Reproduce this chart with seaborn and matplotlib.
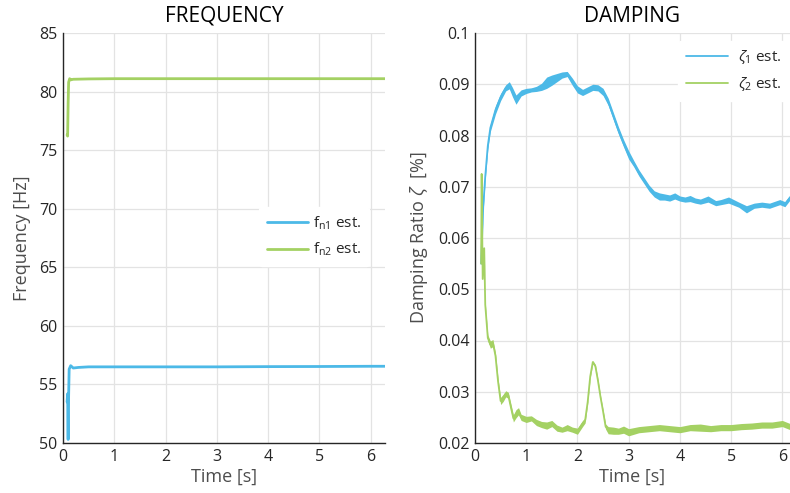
import numpy as np
import pandas as pd
import matplotlib
matplotlib.use("Agg")
import matplotlib.pyplot as plt
import seaborn as sns

# Frequency estimates
t_freq = [0.08, 0.09, 0.10, 0.105, 0.12, 0.15, 0.2, 0.3, 0.5, 1.0, 2.0, 3.0, 4.0, 5.0, 6.0, 6.28]
fn1 = [53.5, 54.2, 50.3, 53.0, 56.3, 56.6, 56.4, 56.45, 56.5, 56.5, 56.5, 56.5, 56.52, 56.53, 56.55, 56.55]
t_freq2 = [0.08, 0.09, 0.10, 0.11, 0.13, 0.15, 0.2, 0.5, 1.0, 2.0, 3.0, 4.0, 5.0, 6.0, 6.28]
fn2 = [76.3, 76.2, 79.0, 80.8, 81.1, 81.0, 81.05, 81.08, 81.1, 81.1, 81.1, 81.1, 81.1, 81.1, 81.1]

# Damping estimates (centre of the noisy band + half-width of the band)
t_z1 = [0.12, 0.16, 0.2, 0.25, 0.3, 0.4, 0.5, 0.6, 0.67, 0.73, 0.8, 0.9, 1.0, 1.1, 1.2,
        1.3, 1.4, 1.5, 1.6, 1.7, 1.8, 1.9, 2.0, 2.1, 2.2, 2.3, 2.4, 2.5, 2.6, 2.7, 2.8,
        2.9, 3.0, 3.1, 3.2, 3.3, 3.4, 3.5, 3.6, 3.7, 3.8, 3.9, 4.0, 4.1, 4.2, 4.3, 4.4,
        4.55, 4.7, 4.8, 4.95, 5.15, 5.3, 5.45, 5.6, 5.75, 5.95, 6.05, 6.15]
z1 = [0.055, 0.066, 0.072, 0.078, 0.0815, 0.085, 0.0875, 0.0893, 0.0898, 0.0885, 0.0870, 0.0883, 0.0887, 0.0889, 0.0891,
      0.0895, 0.0903, 0.0908, 0.0913, 0.0918, 0.0920, 0.0905, 0.0890, 0.0884, 0.0889, 0.0894, 0.0893, 0.0885, 0.0866, 0.0838, 0.0810,
      0.0785, 0.0762, 0.0745, 0.0727, 0.0712, 0.0697, 0.0686, 0.0681, 0.0680, 0.0678, 0.0682, 0.0677, 0.0675, 0.0677, 0.0673, 0.0671,
      0.0676, 0.0668, 0.0670, 0.0674, 0.0665, 0.0656, 0.0663, 0.0665, 0.0663, 0.0670, 0.0666, 0.0679]
z1_spread = [0.0003, 0.0006, 0.0006, 0.0007, 0.0007, 0.0008, 0.0007, 0.0006, 0.0007, 0.0009, 0.0009, 0.0006, 0.0005, 0.0004, 0.0005,
             0.0007, 0.0011, 0.0010, 0.0008, 0.0006, 0.0005, 0.0007, 0.0007, 0.0006, 0.0006, 0.0006, 0.0006, 0.0007, 0.0007, 0.0007, 0.0007,
             0.0007, 0.0008, 0.0006, 0.0006, 0.0006, 0.0006, 0.0006, 0.0007, 0.0006, 0.0006, 0.0006, 0.0005, 0.0005, 0.0006, 0.0005, 0.0005,
             0.0006, 0.0005, 0.0005, 0.0006, 0.0005, 0.0007, 0.0005, 0.0005, 0.0005, 0.0005, 0.0005, 0.0005]

t_z2 = [0.12, 0.13, 0.15, 0.18, 0.2, 0.25, 0.3, 0.35, 0.4, 0.45, 0.5, 0.55, 0.6, 0.65, 0.7,
        0.75, 0.8, 0.85, 0.9, 1.0, 1.1, 1.2, 1.3, 1.4, 1.5, 1.6, 1.7, 1.8, 1.9, 2.0,
        2.1, 2.15, 2.2, 2.25, 2.3, 2.35, 2.4, 2.45, 2.5, 2.55, 2.6, 2.7, 2.8, 2.9, 3.0,
        3.2, 3.4, 3.6, 3.8, 4.0, 4.2, 4.4, 4.6, 4.8, 5.0, 5.2, 5.4, 5.6, 5.8, 6.0, 6.15]
z2 = [0.055, 0.0725, 0.052, 0.058, 0.047, 0.0405, 0.0392, 0.0395, 0.037, 0.032, 0.0282, 0.0288, 0.0296, 0.0293, 0.0270,
      0.0248, 0.0257, 0.0262, 0.0250, 0.0246, 0.0248, 0.0240, 0.0236, 0.0234, 0.0238, 0.0229, 0.0226, 0.0230, 0.0226, 0.0223,
      0.0238, 0.0244, 0.0280, 0.0330, 0.0358, 0.0350, 0.0322, 0.0290, 0.0262, 0.0232, 0.0225, 0.0224, 0.0223, 0.0226, 0.0221,
      0.0226, 0.0228, 0.0230, 0.0228, 0.0226, 0.0230, 0.0230, 0.0228, 0.0230, 0.0230, 0.0232, 0.0233, 0.0235, 0.0235, 0.0238, 0.0232]
z2_spread = [0.0002, 0.0002, 0.0003, 0.0004, 0.0004, 0.0006, 0.0007, 0.0007, 0.0006, 0.0006, 0.0007, 0.0007, 0.0006, 0.0006, 0.0007,
             0.0007, 0.0008, 0.0007, 0.0006, 0.0006, 0.0005, 0.0006, 0.0006, 0.0007, 0.0006, 0.0006, 0.0005, 0.0006, 0.0005, 0.0006,
             0.0006, 0.0005, 0.0003, 0.0003, 0.0003, 0.0003, 0.0003, 0.0003, 0.0003, 0.0005, 0.0007, 0.0007, 0.0006, 0.0007, 0.0007,
             0.0006, 0.0006, 0.0006, 0.0006, 0.0006, 0.0006, 0.0007, 0.0006, 0.0006, 0.0006, 0.0006, 0.0006, 0.0006, 0.0006, 0.0006, 0.0006]

freq_ticks = [50, 55, 60, 65, 70, 75, 80, 85]
damp_ticks = [0.02, 0.03, 0.04, 0.05, 0.06, 0.07, 0.08, 0.09, 0.1]
damp_tick_labels = ["0.02", "0.03", "0.04", "0.05", "0.06", "0.07", "0.08", "0.09", "0.1"]
time_ticks = [0, 1, 2, 3, 4, 5, 6]

blue = "#4cb9e7"
green = "#a4d163"

sns.set_style("white")
plt.rcParams['font.family'] = ['Open Sans', 'DejaVu Sans']
plt.rcParams['mathtext.fontset'] = 'custom'
plt.rcParams['mathtext.rm'] = 'Open Sans'
plt.rcParams['mathtext.it'] = 'Open Sans:italic'

fig = plt.figure(figsize=(7.9, 4.93), dpi=100)
ax1 = fig.add_axes([63 / 790, 50 / 493, 322 / 790, 410 / 493])
ax2 = fig.add_axes([475 / 790, 50 / 493, 315 / 790, 410 / 493])

df1 = pd.DataFrame({"t": t_freq, "f": fn1})
df2 = pd.DataFrame({"t": t_freq2, "f": fn2})
sns.lineplot(data=df1, x="t", y="f", ax=ax1, color=blue, lw=2, sort=False, label=r"f$_{\mathregular{n1}}$ est.")
sns.lineplot(data=df2, x="t", y="f", ax=ax1, color=green, lw=2, sort=False, label=r"f$_{\mathregular{n2}}$ est.")

# noisy bands for damping
z1a = np.array(z1)
s1 = np.array(z1_spread)
z2a = np.array(z2)
s2 = np.array(z2_spread)
ax2.fill_between(t_z1, z1a - s1, z1a + s1, color=blue, lw=0)
ax2.fill_between(t_z2, z2a - s2, z2a + s2, color=green, lw=0)
sns.lineplot(x=t_z1, y=z1, ax=ax2, color=blue, lw=1.3, label=r"$\zeta_{\mathregular{1}}$ est.")
sns.lineplot(x=t_z2, y=z2, ax=ax2, color=green, lw=1.3, label=r"$\zeta_{\mathregular{2}}$ est.")

for ax in (ax1, ax2):
    ax.grid(True, color="#e3e3e3", lw=0.9)
    ax.set_axisbelow(True)
    for s in ("top", "right"):
        ax.spines[s].set_visible(False)
    for s in ("left", "bottom"):
        ax.spines[s].set_color("#262626")
        ax.spines[s].set_linewidth(1.0)
    ax.tick_params(direction="in", length=4, width=0.8, colors="#262626", labelsize=11.5, pad=4)
    ax.set_xticks(time_ticks)
    ax.set_xlabel("Time [s]", fontsize=13, color="#4d4d4d", labelpad=2)

ax1.set_xlim(0, 6.28)
ax1.set_ylim(50, 85)
ax1.set_yticks(freq_ticks)
ax1.set_ylabel("Frequency [Hz]", fontsize=13, color="#4d4d4d", labelpad=6)
ax1.set_title("FREQUENCY", fontsize=15, color="black", pad=8)
leg1 = ax1.legend(loc="upper left", bbox_to_anchor=(0.585, 0.595), frameon=True, fontsize=11,
                  handlelength=2.7, borderpad=0.5, labelspacing=0.6, handletextpad=0.35)
leg1.get_frame().set_edgecolor("white")
leg1.get_frame().set_facecolor("white")
leg1.get_frame().set_alpha(1)

ax2.set_xlim(0, 6.15)
ax2.set_ylim(0.02, 0.1)
ax2.set_yticks(damp_ticks)
ax2.set_yticklabels(damp_tick_labels)
ax2.set_ylabel(r"Damping Ratio $\zeta$  [%]", fontsize=13, color="#4d4d4d", labelpad=6)
ax2.set_title("DAMPING", fontsize=15, color="black", pad=8)
leg2 = ax2.legend(loc="upper right", bbox_to_anchor=(1.02, 1.0), frameon=True, fontsize=11,
                  handlelength=2.8, borderpad=0.5, labelspacing=0.6, handletextpad=0.6)
leg2.get_frame().set_edgecolor("white")
leg2.get_frame().set_facecolor("white")
leg2.get_frame().set_alpha(1)

fig.savefig("out.png", dpi=100)
